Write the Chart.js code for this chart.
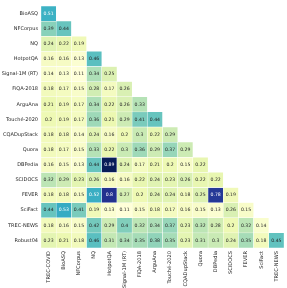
<!DOCTYPE html>
<html><head><meta charset="utf-8">
<script src="https://cdn.jsdelivr.net/npm/chart.js@4.4.0/dist/chart.umd.min.js"></script>
<style>html,body{margin:0;padding:0;background:#fff;overflow:hidden}#wrap{width:287px;height:288px;position:relative}</style>
</head><body><div id="wrap"><canvas id="c"></canvas></div>
<script>
const columnLabels = ['TREC-COVID','BioASQ','NFCorpus','NQ','HotpotQA','Signal-1M (RT)','FiQA-2018','ArguAna','Touché-2020','CQADupStack','Quora','DBPedia','SCIDOCS','FEVER','SciFact','TREC-NEWS'];
const rowLabels = ['BioASQ','NFCorpus','NQ','HotpotQA','Signal-1M (RT)','FiQA-2018','ArguAna','Touché-2020','CQADupStack','Quora','DBPedia','SCIDOCS','FEVER','SciFact','TREC-NEWS','Robust04'];

const rowBioASQ   = [0.51];
const rowNFCorpus = [0.39, 0.44];
const rowNQ       = [0.24, 0.22, 0.19];
const rowHotpotQA = [0.16, 0.16, 0.13, 0.46];
const rowSignal   = [0.14, 0.13, 0.11, 0.34, 0.25];
const rowFiQA     = [0.18, 0.17, 0.15, 0.28, 0.17, 0.26];
const rowArguAna  = [0.21, 0.19, 0.17, 0.34, 0.22, 0.26, 0.33];
const rowTouche   = [0.2, 0.19, 0.17, 0.36, 0.21, 0.29, 0.41, 0.44];
const rowCQA      = [0.18, 0.18, 0.14, 0.24, 0.16, 0.2, 0.3, 0.22, 0.29];
const rowQuora    = [0.18, 0.17, 0.15, 0.33, 0.22, 0.3, 0.36, 0.29, 0.37, 0.29];
const rowDBPedia  = [0.16, 0.15, 0.13, 0.44, 0.89, 0.24, 0.17, 0.21, 0.2, 0.15, 0.22];
const rowSCIDOCS  = [0.32, 0.29, 0.23, 0.26, 0.16, 0.16, 0.22, 0.24, 0.23, 0.26, 0.22, 0.22];
const rowFEVER    = [0.18, 0.18, 0.15, 0.52, 0.8, 0.27, 0.2, 0.24, 0.24, 0.18, 0.25, 0.78, 0.19];
const rowSciFact  = [0.44, 0.53, 0.41, 0.19, 0.13, 0.11, 0.15, 0.18, 0.17, 0.16, 0.15, 0.13, 0.26, 0.15];
const rowTRECNEWS = [0.18, 0.16, 0.15, 0.42, 0.29, 0.4, 0.32, 0.34, 0.37, 0.23, 0.32, 0.28, 0.2, 0.32, 0.14];
const rowRobust04 = [0.23, 0.21, 0.18, 0.46, 0.31, 0.34, 0.35, 0.38, 0.35, 0.23, 0.31, 0.3, 0.24, 0.35, 0.18, 0.45];

const matrix = [rowBioASQ,rowNFCorpus,rowNQ,rowHotpotQA,rowSignal,rowFiQA,rowArguAna,rowTouche,rowCQA,rowQuora,rowDBPedia,rowSCIDOCS,rowFEVER,rowSciFact,rowTRECNEWS,rowRobust04];

const stops = ['#ffffd9','#edf8b1','#c7e9b4','#7fcdbb','#41b6c4','#1d91c0','#225ea8','#253494','#081d58'].map(h=>[parseInt(h.slice(1,3),16),parseInt(h.slice(3,5),16),parseInt(h.slice(5,7),16)]);
const allVals = matrix.flat();
const vmin = Math.min(...allVals), vmax = Math.max(...allVals);
function cmap(v){
  let t = (v - vmin)/(vmax - vmin); t = Math.max(0, Math.min(1, t));
  const p = t*(stops.length-1); const i = Math.min(Math.floor(p), stops.length-2); const f = p - i;
  return stops[i].map((c,k)=>Math.round(c + (stops[i+1][k]-c)*f));
}
function lum(rgb){
  const l = rgb.map(c=>{c/=255;return c<=0.03928?c/12.92:Math.pow((c+0.055)/1.055,2.4);});
  return 0.2126*l[0]+0.7152*l[1]+0.0722*l[2];
}

const datasets = matrix.map((row, r) => {
  const cols = columnLabels.map((_, c) => c < row.length ? cmap(row[c]) : null);
  return {
    data: columnLabels.map((_, c) => c < row.length ? [r-0.5, r+0.5] : null),
    vals: columnLabels.map((_, c) => c < row.length ? row[c] : null),
    backgroundColor: cols.map(c => c ? `rgb(${c[0]},${c[1]},${c[2]})` : 'rgba(0,0,0,0)'),
    textColors: cols.map(c => c ? (lum(c) > 0.408 ? '#262626' : '#ffffff') : '#000'),
    borderColor: '#ffffff', borderWidth: 0.5, borderSkipped: false,
    grouped: false, barPercentage: 1, categoryPercentage: 1
  };
});

const annot = {
  id: 'annot',
  afterDatasetsDraw(chart){
    const ctx = chart.ctx;
    ctx.save();
    ctx.font = '4.6px "DejaVu Sans"';
    ctx.textAlign = 'center'; ctx.textBaseline = 'middle';
    chart.data.datasets.forEach((ds, di) => {
      const meta = chart.getDatasetMeta(di);
      meta.data.forEach((el, i) => {
        const v = ds.vals[i]; if (v == null) return;
        ctx.fillStyle = ds.textColors[i];
        ctx.fillText(String(Number(v.toPrecision(2))), el.x, (el.y + el.base)/2);
      });
    });
    ctx.restore();
  }
};

new Chart(document.getElementById('c'), {
  type: 'bar',
  data: { labels: columnLabels, datasets },
  options: {
    responsive: true, maintainAspectRatio: false, animation: false,
    layout: { padding: { top: 2, right: 3, left: 0, bottom: 0 } },
    plugins: { legend: { display: false }, tooltip: { enabled: false } },
    scales: {
      x: {
        type: 'category',
        grid: { display: false, drawTicks: false }, border: { display: false },
        ticks: { autoSkip: false, maxRotation: 90, minRotation: 90, padding: 3, color: '#262626', font: { family: 'DejaVu Sans', size: 5.1 } },
        afterFit: a => { a.height = 40; }
      },
      y: {
        type: 'linear', reverse: true, min: -0.5, max: 15.5,
        grid: { display: false, drawTicks: false }, border: { display: false },
        afterBuildTicks: a => { a.ticks = rowLabels.map((_, i) => ({ value: i })); },
        ticks: { autoSkip: false, padding: 3, color: '#262626', font: { family: 'DejaVu Sans', size: 5.0 }, callback: v => rowLabels[v] },
        afterFit: a => { a.width = 41; }
      }
    }
  },
  plugins: [annot]
});
</script></body></html>
